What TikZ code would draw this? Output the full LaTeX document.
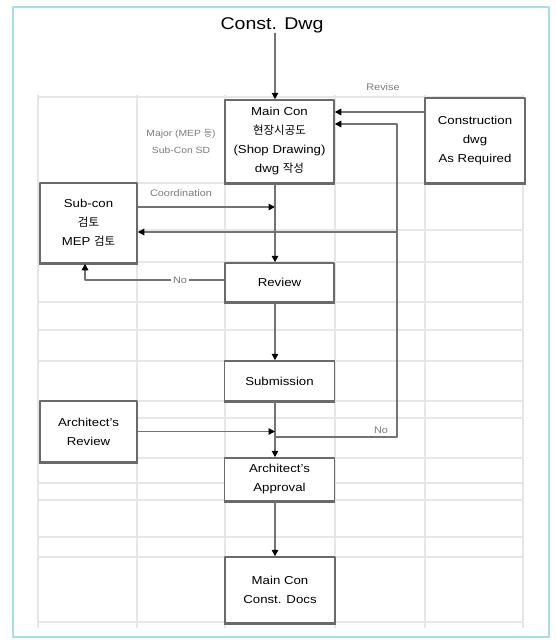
\documentclass[tikz,border=0pt]{standalone}
\usepackage{fontspec}
\setmainfont{Liberation Sans}[FakeStretch=1.15]
\newfontfamily\kr{Noto Sans CJK KR}
\usetikzlibrary{arrows.meta}
\definecolor{framec}{HTML}{A9DCEB}
\definecolor{gridc}{HTML}{E6E6E6}
\definecolor{linec}{HTML}{737373}
\definecolor{boxc}{HTML}{6A6A6A}
\definecolor{labc}{HTML}{7A7A7A}
\begin{document}
\begin{tikzpicture}[x=1pt,y=-1pt,line join=round,
	box/.style={draw=boxc,line width=1.5pt,fill=white,align=center,inner sep=0pt,font=\fontsize{11.5}{19}\selectfont},
	conn/.style={draw=linec,line width=1.4pt,-{Triangle[length=6.5pt,width=6.5pt,fill=black,color=black]}},
	lab/.style={text=labc,font=\fontsize{9.5}{15}\selectfont,inner sep=0pt}]
\useasboundingbox (0,0) rectangle (555,640);
\draw[framec,line width=1.5pt] (13,7) rectangle (549,637);
% spreadsheet grid behind
\foreach \gx in {38,137,225,335,425,523}
	\draw[gridc,line width=1.5pt] (\gx,95) -- (\gx,628);
\foreach \gy in {97,183,230,262,302,330,361,401,418,458,483,500,537,557,622}
	\draw[gridc,line width=1.5pt] (38,\gy) -- (523,\gy);
% levels of the connectors
\path (275,0)coordinate(spine) (397,0)coordinate(loop) (85,0)coordinate(nox)
	(0,112)coordinate(yRev) (0,124)coordinate(yBack) (0,207)coordinate(yCo)
	(0,232)coordinate(yRet) (0,280)coordinate(yRw) (0,437)coordinate(yNo);
% boxes
\node[inner sep=0pt,font=\fontsize{17}{20}\selectfont] (title) at (272,25) {Const. Dwg};
\node[box,minimum width=109pt,minimum height=83pt] (maincon) at (279.5,141.5)
	{Main Con\\{\kr 현장시공도}\\(Shop Drawing)\\dwg {\kr 작성}};
\node[box,minimum width=100pt,minimum height=85pt] (cdwg) at (475,140.5)
	{Construction\\dwg\\As Required};
\node[box,minimum width=97pt,minimum height=80pt] (subcon) at (88.5,223)
	{Sub-con\\{\kr 검토}\\MEP {\kr 검토}};
\node[box,minimum width=109pt,minimum height=39pt] (review) at (279.5,282.5) {Review};
\node[box,minimum width=110pt,minimum height=40pt] (submit) at (279.5,381) {Submission};
\node[box,minimum width=97pt,minimum height=61pt] (arev) at (88.5,431.5) {Architect's\\Review};
\node[box,minimum width=110pt,minimum height=43pt] (aappr) at (279.5,479.5) {Architect's\\Approval};
\node[box,minimum width=110pt,minimum height=66pt] (docs) at (280,590) {Main Con\\Const. Docs};
\foreach \n in {maincon,cdwg,subcon,review,submit,arev,aappr,docs}
	\draw[boxc,line width=2.8pt] (\n.south west) -- (\n.south east);
% labels
\node[lab] (lrev) at (383,87) {Revise};
\node[lab,align=center,font=\fontsize{9}{17}\selectfont] (lmaj) at (181,141) {Major (MEP {\kr 등})\\Sub-Con SD};
\node[lab] (lco) at (181,193) {Coordination};
\node[lab,fill=white,inner sep=2pt] (lno1) at (180,280) {No};
\node[lab] (lno2) at (381,430) {No};
% connectors
\draw[conn] (title.south -| spine) -- (maincon.north -| spine);
\draw[conn] (cdwg.west |- yRev) -- (maincon.east |- yRev);
\draw[conn] (spine |- yNo) -- (loop |- yNo) -- (loop |- yBack) -- (maincon.east |- yBack);
\draw[conn] (loop |- yRet) -- (subcon.east |- yRet);
\draw[conn] (subcon.east |- yCo) -- (spine |- yCo);
\draw[conn] (maincon.south -| spine) -- (review.north -| spine);
\draw[conn] (review.west |- yRw) -- (lno1) -- (nox |- yRw) -- (nox |- subcon.south);
\draw[conn] (review.south -| spine) -- (submit.north -| spine);
\draw[conn] (submit.south -| spine) -- (aappr.north -| spine);
\draw[conn] (arev.east) -- (arev.east -| spine);
\draw[conn] (aappr.south -| spine) -- (docs.north -| spine);
\end{tikzpicture}
\end{document}
